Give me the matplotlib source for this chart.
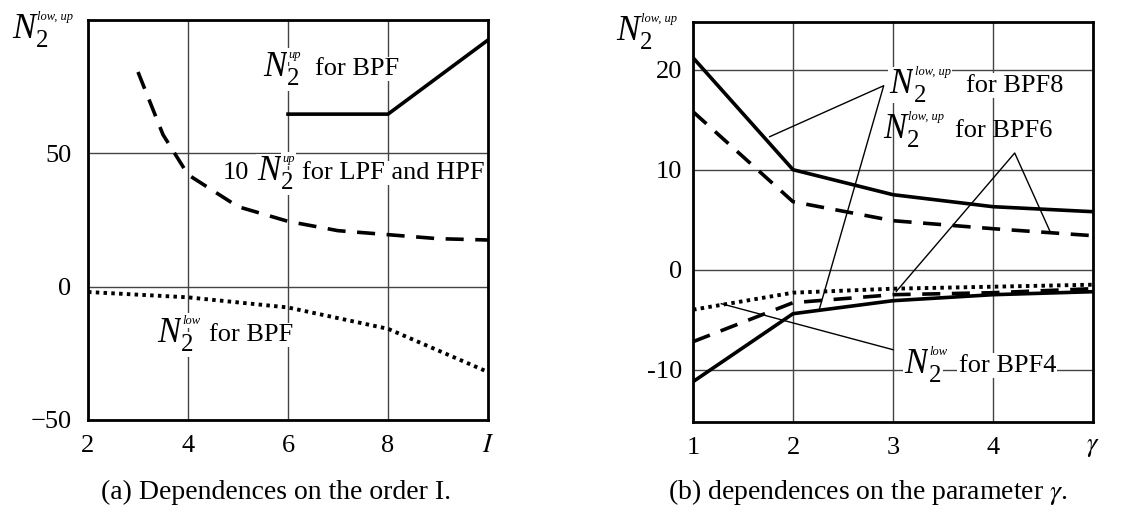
import numpy as np
import matplotlib
matplotlib.use('Agg')
import matplotlib.pyplot as plt

plt.rcParams['font.family'] = ['Liberation Serif', 'DejaVu Serif']
plt.rcParams['mathtext.fontset'] = 'stix'

# ---------------------------------------------------------------
# (a) dependences on the order I
order_bpf_up = [6, 8, 10]
n2_bpf_up = [64.7, 64.7, 92.5]

order_lpf = [3, 3.5, 4, 5, 6, 7, 8, 9, 10]
n2_lpf_x10 = [80.5, 57, 42, 30, 24.5, 21, 19.5, 18, 17.5]

order_bpf_low = [2, 4, 6, 8, 10]
n2_bpf_low = [-2, -4, -7.8, -15.8, -32]

# (b) dependences on the parameter gamma
gamma = [1, 2, 3, 4, 5]
bpf8_up = [21.2, 10.0, 7.5, 6.3, 5.8]
bpf6_up = [15.8, 6.8, 4.9, 4.1, 3.4]
bpf4_low = [-4.0, -2.3, -1.9, -1.7, -1.5]
bpf6_low = [-7.2, -3.3, -2.5, -2.3, -1.9]
bpf8_low = [-11.2, -4.4, -3.1, -2.5, -2.2]

W, H = 1140, 514
PT = 0.72  # points per pixel at dpi 100
fig = plt.figure(figsize=(W / 100, H / 100), dpi=100)
ax1 = fig.add_axes([88 / W, 1 - 420 / H, 400 / W, 400 / H])
ax2 = fig.add_axes([693 / W, 1 - 421.7 / H, 400 / W, 400 / H])

grid_kw = dict(color='#444444', lw=1.0)
white = dict(facecolor='white', edgecolor='none', pad=1)
dash = (0, (5, 3.2))
dot = (0, (0.9, 1.1))


def n2(ax, x, y, sup, tail=None, tail_dx=52, coords='data', box=True):
    # N, subscript 2 and a small italic superscript, then the plain text
    bb = white if box else None
    kw = dict(xy=(x, y), xycoords=coords, textcoords='offset points',
              va='center', ha='left', zorder=2.5, bbox=bb)
    ax.annotate('N', xytext=(0, 0), fontsize=25, fontstyle='italic', **kw)
    ax.annotate('2', xytext=(24 * PT, -11 * PT), fontsize=18, **kw)
    ax.annotate(sup, xytext=(25 * PT, 13 * PT), fontsize=9, fontstyle='italic', **kw)
    if tail:
        ax.annotate(tail, xytext=(tail_dx * PT, -1 * PT), fontsize=19, **kw)


for ax in (ax1, ax2):
    ax.set_axisbelow(True)
    ax.grid(True, **grid_kw)
    ax.tick_params(length=0, labelsize=19)
    ax.tick_params(axis='x', pad=11)
    for s in ax.spines.values():
        s.set_linewidth(2.0)
ax1.tick_params(axis='y', pad=12)
ax2.tick_params(axis='y', pad=8)

# ---- left panel
ax1.plot(order_bpf_up, n2_bpf_up, color='k', lw=2.6, zorder=3)
ax1.plot(order_lpf, n2_lpf_x10, color='k', lw=2.6, linestyle=dash, zorder=3)
ax1.plot(order_bpf_low, n2_bpf_low, color='k', lw=2.8, linestyle=dot, zorder=3)
ax1.set_xlim(2, 10)
ax1.set_ylim(-50, 100)
ax1.set_xticks([2, 4, 6, 8, 10])
ax1.set_xticklabels(['2', '4', '6', '8', '$I$'])
ax1.set_yticks([-50, 0, 50, 100])
ax1.set_yticklabels(['\u221250', '0', '50', ''])

n2(ax1, 5.5, 82, 'up', 'for BPF', tail_dx=52)
ax1.text(4.7, 42.5, '10', fontsize=19, va='center', zorder=2.5, bbox=white)
n2(ax1, 5.38, 43, 'up', 'for LPF and HPF', tail_dx=45)
n2(ax1, 3.38, -17.7, 'low', 'for BPF', tail_dx=52)

# ---- right panel
ax2.plot(gamma, bpf8_up, color='k', lw=2.6, zorder=3)
ax2.plot(gamma, bpf6_up, color='k', lw=2.6, linestyle=dash, zorder=3)
ax2.plot(gamma, bpf4_low, color='k', lw=2.8, linestyle=dot, zorder=3)
ax2.plot(gamma, bpf6_low, color='k', lw=2.6, linestyle=dash, zorder=3)
ax2.plot(gamma, bpf8_low, color='k', lw=2.6, zorder=3)
ax2.set_xlim(1, 5)
ax2.set_ylim(-15.2, 24.8)
ax2.set_xticks([1, 2, 3, 4, 5])
ax2.set_xticklabels(['1', '2', '3', '4', r'$\gamma$'])
ax2.set_yticks([-10, 0, 10, 20])
ax2.set_yticklabels(['-10', '0', '10', '20'])

# leader lines
ax2.plot([1.767, 2.907, 2.26], [13.3, 18.4, -4.07], color='k', lw=1.0, zorder=3)
ax2.plot([3.033, 4.217, 4.567], [-2.17, 11.67, 3.9], color='k', lw=1.0, zorder=3)
ax2.plot([3.0, 1.283], [-8.0, -3.4], color='k', lw=1.0, zorder=3)

n2(ax2, 2.967, 18.5, 'low, up', 'for BPF8', tail_dx=76)
n2(ax2, 2.9, 14.0, 'low, up', 'for BPF6', tail_dx=72, box=False)
n2(ax2, 3.117, -9.5, 'low', 'for BPF4', tail_dx=54)

# axis names in the top-left corners
n2(ax1, 12 / W, 1 - 30 / H, 'low, up', coords='figure fraction', box=False)
n2(ax2, 616 / W, 1 - 32 / H, 'low, up', coords='figure fraction', box=False)

# captions
fig.text(276 / W, 1 - 492 / H, '(a) Dependences on the order I.', fontsize=20,
         ha='center', va='center')
fig.text(868 / W, 1 - 492 / H, r'(b) dependences on the parameter $\gamma$.', fontsize=20,
         ha='center', va='center')

fig.savefig('out.png', dpi=100)
